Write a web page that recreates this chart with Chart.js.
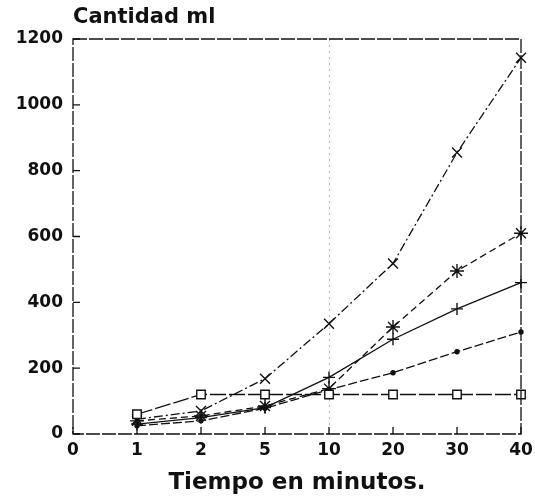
<!DOCTYPE html>
<html>
<head>
<meta charset="utf-8">
<script src="https://cdn.jsdelivr.net/npm/chart.js@4"></script>
<style>
  html, body { margin: 0; padding: 0; background: #fff; }
  #wrap { width: 535px; height: 499px; }
</style>
</head>
<body>
<div id="wrap"><canvas id="chart"></canvas></div>
<script>
const MINUTES = ['0', '1', '2', '5', '10', '20', '30', '40'];
const Y_TICKS = [0, 200, 400, 600, 800, 1000, 1200];

// one value per minute label, null where nothing is plotted
const squares  = [null, 60, 120, 120, 120, 120, 120, 120];
const crosses  = [null, 45, 70, 168, 335, 518, 855, 1143];
const stars    = [null, 40, 55, 85, 138, 325, 495, 610];
const pluses   = [null, 30, 50, 80, 172, 288, 380, 460];
const dots     = [null, 25, 40, 78, 135, 186, 250, 310];

const FONT = '"DejaVu Sans", Verdana, sans-serif';

function series(data, style, radius, dash, fill) {
  return {
    data,
    borderColor: '#111',
    borderWidth: 1.3,
    borderDash: dash,
    pointStyle: style,
    pointRadius: radius,
    pointBorderColor: '#111',
    pointBackgroundColor: fill,
    pointBorderWidth: 1.4,
    tension: 0,
    spanGaps: false
  };
}

// frame, inward ticks and the y title
const frame = {
  id: 'frame',
  afterDraw(chart) {
    const { ctx, chartArea: a, scales } = chart;
    ctx.save();
    ctx.strokeStyle = '#111';
    ctx.lineWidth = 1.3;
    ctx.setLineDash([14, 2]);
    ctx.strokeRect(a.left, a.top, a.right - a.left, a.bottom - a.top);
    ctx.setLineDash([]);
    ctx.beginPath();
    scales.x.ticks.forEach((t, i) => {
      const x = scales.x.getPixelForTick(i);
      ctx.moveTo(x, a.bottom);
      ctx.lineTo(x, a.bottom - 7);
    });
    scales.y.ticks.forEach((t, i) => {
      const y = scales.y.getPixelForTick(i);
      ctx.moveTo(a.left, y);
      ctx.lineTo(a.left + 7, y);
    });
    ctx.stroke();
    ctx.fillStyle = '#111';
    ctx.font = 'bold 21px ' + FONT;
    ctx.textBaseline = 'bottom';
    ctx.textAlign = 'left';
    ctx.fillText('Cantidad ml', a.left, a.top - 11);
    ctx.restore();
  }
};

new Chart(document.getElementById('chart'), {
  type: 'line',
  data: {
    labels: MINUTES,
    datasets: [
      series(squares, 'rect', 6, [16, 3], '#fff'),
      series(crosses, 'crossRot', 7, [9, 3, 2, 3], '#fff'),
      series(stars, 'star', 7, [7, 4], '#fff'),
      series(pluses, 'cross', 6, [], '#fff'),
      series(dots, 'circle', 2, [9, 3], '#111')
    ]
  },
  options: {
    responsive: true,
    maintainAspectRatio: false,
    animation: false,
    layout: { padding: { top: 39, right: 2, left: 0, bottom: 0 } },
    scales: {
      x: {
        type: 'category',
        offset: false,
        border: { display: false, dash: [2, 4] },
        grid: {
          drawTicks: false,
          color: (c) => c.index === 4 ? 'rgba(0,0,0,0.3)' : 'rgba(0,0,0,0)',
          lineWidth: 1
        },
        ticks: {
          color: '#111',
          padding: 6,
          maxRotation: 0,
          autoSkip: false,
          font: { family: FONT, size: 17, weight: 'bold' }
        },
        title: {
          display: true,
          text: 'Tiempo en minutos.',
          color: '#111',
          padding: { top: 4, bottom: 2 },
          font: { family: FONT, size: 23, weight: 'bold' }
        },
        afterFit: (s) => { s.height = 65; s.paddingRight = 14; }
      },
      y: {
        min: 0,
        max: 1200,
        afterBuildTicks: (s) => { s.ticks = Y_TICKS.map(v => ({ value: v })); },
        border: { display: false },
        grid: { display: false, drawTicks: false },
        ticks: {
          color: '#111',
          padding: 10,
          callback: (v) => String(v),
          font: { family: FONT, size: 17, weight: 'bold' }
        },
        afterFit: (s) => { s.width = 73; }
      }
    },
    plugins: {
      legend: { display: false },
      tooltip: { enabled: false }
    }
  },
  plugins: [frame]
});
</script>
</body>
</html>
